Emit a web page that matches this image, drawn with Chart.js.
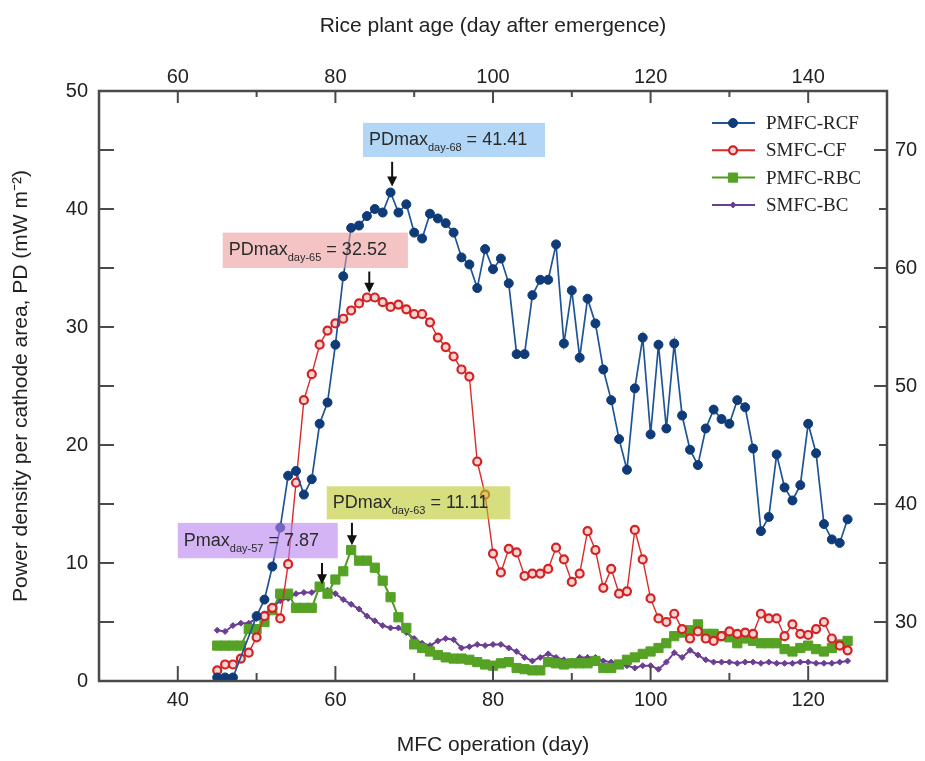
<!DOCTYPE html>
<html>
<head>
<meta charset="utf-8">
<title>Power density vs MFC operation day</title>
<script src="https://cdn.jsdelivr.net/npm/chart.js@4.4.1/dist/chart.umd.min.js"></script>
<style>
    html, body { margin: 0; padding: 0; background: #fff; }
    #wrap { width: 925px; height: 761px; }
</style>
</head>
<body>
<div id="wrap"><canvas id="pdChart" width="925" height="761"></canvas></div>
<script>
/* ---------- data ---------- */
const days = [45, 46, 47, 48, 49, 50, 51, 52, 53, 54, 55, 56, 57, 58, 59, 60, 61, 62, 63, 64,
    65, 66, 67, 68, 69, 70, 71, 72, 73, 74, 75, 76, 77, 78, 79, 80, 81, 82, 83, 84,
    85, 86, 87, 88, 89, 90, 91, 92, 93, 94, 95, 96, 97, 98, 99, 100, 101, 102, 103, 104,
    105, 106, 107, 108, 109, 110, 111, 112, 113, 114, 115, 116, 117, 118, 119, 120, 121, 122, 123, 124, 125];

const pmfcRcf = [0.3, 0.3, 0.3, null, null, 5.5, 6.9, 9.7, 13.0, 17.4, 17.8, 15.8, 17.1, 21.8, 23.6, 28.5, 34.3, 38.4, 38.6, 39.4,
    40.0, 39.7, 41.4, 39.7, 40.4, 38.0, 37.5, 39.6, 39.2, 38.8, 38.0, 35.9, 35.3, 33.3, 36.6, 34.9, 35.8, 33.7, 27.7, 27.7,
    32.7, 34.0, 34.0, 37.0, 28.6, 33.1, 27.4, 32.4, 30.3, 26.4, 23.8, 20.5, 17.9, 24.8, 29.1, 20.9, 28.5, 21.4, 28.6, 22.5,
    19.6, 18.3, 21.4, 23.0, 22.2, 21.8, 23.8, 23.2, 19.7, 12.7, 13.9, 19.2, 16.4, 15.3, 16.6, 21.8, 19.3, 13.3, 12.0, 11.7, 13.7];

const smfcCf = [0.9, 1.4, 1.4, 1.9, 2.4, 3.7, 5.5, 6.2, 5.3, 9.9, 16.8, 23.8, 26.0, 28.5, 29.7, 30.3, 30.7, 31.4, 32.0, 32.5,
    32.5, 32.1, 31.7, 31.9, 31.5, 31.1, 31.1, 30.4, 29.1, 28.3, 27.5, 26.4, 25.8, 18.6, 15.8, 10.8, 9.2, 11.2, 10.9, 8.9,
    9.1, 9.1, 9.5, 11.3, 10.3, 8.4, 9.1, 12.7, 11.1, 7.9, 9.5, 7.4, 7.6, 12.8, 10.3, 7.0, 5.3, 5.0, 5.7, 4.4,
    3.6, 4.2, 3.6, 3.4, 3.8, 4.2, 4.0, 4.1, 4.0, 5.7, 5.3, 5.3, 3.8, 4.8, 4.0, 3.9, 4.4, 5.0, 3.6, 3.0, 2.6];

const pmfcRbc = [3.0, 3.0, 3.0, 3.0, 4.4, 4.4, 5.0, 6.0, 7.4, 7.4, 6.2, 6.2, 6.2, 8.0, 7.4, 8.6, 9.3, 11.1, 10.2, 10.2,
    9.6, 8.5, 7.1, 5.4, 4.5, 3.1, 2.8, 2.5, 2.2, 2.0, 1.9, 1.9, 1.8, 1.6, 1.4, 1.3, 1.5, 1.6, 1.1, 1.0,
    0.9, 0.9, 1.6, 1.5, 1.4, 1.5, 1.5, 1.5, 1.7, 1.1, 1.1, 1.4, 1.8, 2.0, 2.3, 2.5, 2.8, 3.2, 3.8, 4.1,
    4.3, 4.8, 4.0, 4.0, 3.8, 3.7, 3.2, 3.6, 3.4, 3.2, 3.2, 3.2, 2.7, 2.5, 2.8, 3.0, 2.7, 2.5, 2.8, 3.1, 3.4];

const smfcBc = [4.3, 4.2, 4.7, 4.9, 4.9, 5.3, 5.7, 6.2, 6.8, 7.0, 7.4, 7.5, 7.5, 7.8, 7.7, 7.4, 6.9, 6.5, 6.1, 5.5,
    5.1, 4.7, 4.5, 4.5, 4.1, 3.6, 3.2, 3.0, 3.4, 3.6, 3.5, 2.8, 2.9, 3.1, 3.0, 3.1, 3.1, 2.8, 2.5, 2.0,
    1.7, 2.0, 2.3, 2.0, 1.8, 1.7, 2.0, 2.0, 2.0, 1.7, 1.6, 1.5, 1.3, 1.1, 1.3, 1.3, 1.0, 1.6, 2.4, 2.0,
    2.6, 2.2, 1.8, 1.6, 1.6, 1.6, 1.5, 1.6, 1.6, 1.5, 1.6, 1.5, 1.5, 1.5, 1.6, 1.6, 1.5, 1.5, 1.5, 1.6, 1.7];

const seriesNames = ["PMFC-RCF", "SMFC-CF", "PMFC-RBC", "SMFC-BC"];

/* ---------- axes ---------- */
const bottomTicks = [40, 60, 80, 100, 120];
const bottomMinor = [50, 70, 90, 110];
const topTicks = [60, 80, 100, 120, 140];
const topMinor = [70, 90, 110, 130];
const leftTicks = [0, 10, 20, 30, 40, 50];
const leftMinor = [5, 15, 25, 35, 45];
const rightTicks = [30, 40, 50, 60, 70];
const rightMinor = [35, 45, 55, 65];

/* ---------- callouts ---------- */
const notes = [
    { main: "PDmax", sub: "day-68", rest: " = 41.41", fill: "rgba(127,187,238,0.6)",
      x0: 63.5, x1: 86.6, y0: 47.3, y1: 44.4, ax: 67.2, ay0: 44.0, ay1: 41.9 },
    { main: "PDmax", sub: "day-65", rest: " = 32.52", fill: "rgba(237,157,157,0.6)",
      x0: 45.7, x1: 69.2, y0: 38.0, y1: 35.0, ax: 64.3, ay0: 34.7, ay1: 32.9 },
    { main: "PDmax", sub: "day-63", rest: " = 11.11", fill: "rgba(187,200,43,0.6)",
      x0: 58.9, x1: 82.2, y0: 16.5, y1: 13.7, ax: 62.1, ay0: 13.4, ay1: 11.5 },
    { main: "Pmax", sub: "day-57", rest: " = 7.87", fill: "rgba(183,130,238,0.6)",
      x0: 40.0, x1: 60.3, y0: 13.4, y1: 10.4, ax: 58.3, ay0: 10.0, ay1: 8.2 }
];

const SANS = "'Liberation Sans', Arial, sans-serif";
const SERIF = "'Liberation Serif', 'Times New Roman', serif";

function toPoints(vals) {
    return days.map((d, i) => ({ x: d, y: vals[i] }));
}

/* ---------- marker drawing (legend) ---------- */
function drawMarker(ctx, style, x, y, r) {
    ctx.beginPath();
    if (style === "rect") {
        const s = r * Math.SQRT1_2;
        ctx.rect(x - s, y - s, 2 * s, 2 * s);
    } else if (style === "rectRot") {
        ctx.moveTo(x, y - r); ctx.lineTo(x + r, y); ctx.lineTo(x, y + r); ctx.lineTo(x - r, y); ctx.closePath();
    } else {
        ctx.arc(x, y, r, 0, Math.PI * 2);
    }
    ctx.fill();
    ctx.stroke();
}

/* ---------- plugins ---------- */
const calloutPlugin = {
    id: "callouts",
    afterDatasetsDraw(chart) {
        const { ctx, scales: { x, y } } = chart;
        ctx.save();
        notes.forEach(n => {
            const left = x.getPixelForValue(n.x0), right = x.getPixelForValue(n.x1);
            const top = y.getPixelForValue(n.y0), bottom = y.getPixelForValue(n.y1);
            ctx.fillStyle = n.fill;
            ctx.fillRect(left, top, right - left, bottom - top);

            // text with subscript
            const base = top + (bottom - top) / 2 + 5;
            let tx = left + 6;
            ctx.fillStyle = "#2b2b2b";
            ctx.textBaseline = "alphabetic";
            ctx.textAlign = "left";
            ctx.font = "18px " + SANS;
            ctx.fillText(n.main, tx, base);
            tx += ctx.measureText(n.main).width;
            ctx.font = "11px " + SANS;
            ctx.fillText(n.sub, tx, base + 6);
            tx += ctx.measureText(n.sub).width;
            ctx.font = "18px " + SANS;
            ctx.fillText(n.rest, tx, base);

            // arrow
            const ax = x.getPixelForValue(n.ax);
            const a0 = y.getPixelForValue(n.ay0), a1 = y.getPixelForValue(n.ay1);
            ctx.strokeStyle = "#111";
            ctx.fillStyle = "#111";
            ctx.lineWidth = 2;
            ctx.beginPath();
            ctx.moveTo(ax, a0);
            ctx.lineTo(ax, a1 - 8);
            ctx.stroke();
            ctx.beginPath();
            ctx.moveTo(ax - 5, a1 - 10);
            ctx.lineTo(ax + 5, a1 - 10);
            ctx.lineTo(ax, a1);
            ctx.closePath();
            ctx.fill();
        });
        ctx.restore();
    }
};

const framePlugin = {
    id: "frameTicks",
    afterDraw(chart) {
        const { ctx, chartArea: a, scales } = chart;
        ctx.save();
        ctx.strokeStyle = "#4a4a4a";
        ctx.lineWidth = 2;
        const mark = (scale, vals, len, side) => {
            vals.forEach(v => {
                const p = scale.getPixelForValue(v);
                ctx.beginPath();
                if (side === "bottom") { ctx.moveTo(p, a.bottom); ctx.lineTo(p, a.bottom - len); }
                if (side === "top") { ctx.moveTo(p, a.top); ctx.lineTo(p, a.top + len); }
                if (side === "left") { ctx.moveTo(a.left, p); ctx.lineTo(a.left + len, p); }
                if (side === "right") { ctx.moveTo(a.right, p); ctx.lineTo(a.right - len, p); }
                ctx.stroke();
            });
        };
        mark(scales.x, bottomTicks, 15, "bottom");
        mark(scales.x, bottomMinor, 8, "bottom");
        mark(scales.x2, topTicks, 12, "top");
        mark(scales.x2, topMinor, 6, "top");
        mark(scales.y, leftTicks, 15, "left");
        mark(scales.y, leftMinor, 15, "left");
        mark(scales.y2, rightTicks, 13, "right");
        mark(scales.y2, rightMinor, 8, "right");

        ctx.lineWidth = 2.5;
        ctx.strokeRect(a.left, a.top, a.right - a.left, a.bottom - a.top);
        ctx.restore();
    }
};

const legendPlugin = {
    id: "innerLegend",
    afterDraw(chart) {
        const { ctx, chartArea: a } = chart;
        ctx.save();
        chart.data.datasets.forEach((ds, i) => {
            const y = a.top + 32 + i * 27.3;
            const x0 = a.right - 175;
            ctx.strokeStyle = ds.borderColor;
            ctx.lineWidth = 2;
            ctx.beginPath();
            ctx.moveTo(x0, y);
            ctx.lineTo(x0 + 43, y);
            ctx.stroke();
            ctx.fillStyle = ds.pointBackgroundColor;
            ctx.strokeStyle = ds.pointBorderColor;
            ctx.lineWidth = ds.pointBorderWidth;
            drawMarker(ctx, ds.pointStyle, x0 + 21, y, ds.legendRadius);
            ctx.fillStyle = "#222";
            ctx.font = "19px " + SERIF;
            ctx.textBaseline = "middle";
            ctx.fillText(ds.label, x0 + 54, y + 1);
        });
        ctx.restore();
    }
};

/* ---------- scales ---------- */
function makeAxis(position, min, max, ticks, boxSize, pad, title, titlePad) {
    const horizontal = position === "top" || position === "bottom";
    return {
        type: "linear",
        position,
        min,
        max,
        grid: { display: false, drawTicks: false },
        border: { display: false },
        afterBuildTicks: s => { s.ticks = ticks.map(v => ({ value: v })); },
        afterFit: s => { if (horizontal) s.height = boxSize; else s.width = boxSize; },
        ticks: { color: "#222", font: { family: SANS, size: 20 }, padding: pad, maxRotation: 0 },
        title: {
            display: !!title,
            text: title,
            color: "#222",
            font: { family: SANS, size: 21 },
            padding: titlePad
        }
    };
}

/* ---------- chart ---------- */
new Chart(document.getElementById("pdChart"), {
    type: "line",
    data: {
        datasets: [
            {
                label: seriesNames[0], data: toPoints(pmfcRcf),
                borderColor: "#1f5497", borderWidth: 1.7,
                pointStyle: "circle", pointRadius: 4.5, legendRadius: 4.5,
                pointBackgroundColor: "#0f3b78", pointBorderColor: "#0f3b78", pointBorderWidth: 1
            },
            {
                label: seriesNames[1], data: toPoints(smfcCf),
                borderColor: "#d92b2b", borderWidth: 1.4,
                pointStyle: "circle", pointRadius: 4, legendRadius: 4,
                pointBackgroundColor: "#f9d4d4", pointBorderColor: "#d42222", pointBorderWidth: 2.2
            },
            {
                label: seriesNames[2], data: toPoints(pmfcRbc),
                borderColor: "#4f9a1f", borderWidth: 2,
                pointStyle: "rect", pointRadius: 6.5, legendRadius: 6.5,
                pointBackgroundColor: "#55a224", pointBorderColor: "#55a224", pointBorderWidth: 1
            },
            {
                label: seriesNames[3], data: toPoints(smfcBc),
                borderColor: "#6a3f93", borderWidth: 2,
                pointStyle: "rectRot", pointRadius: 3, legendRadius: 3,
                pointBackgroundColor: "#6a3f93", pointBorderColor: "#6a3f93", pointBorderWidth: 1
            }
        ]
    },
    options: {
        responsive: false,
        animation: false,
        spanGaps: true,
        layout: { padding: 0 },
        elements: { line: { tension: 0 } },
        plugins: { legend: { display: false }, tooltip: { enabled: false } },
        scales: {
            x: makeAxis("bottom", 30, 130, bottomTicks, 80, 7, "MFC operation (day)", { top: 0, bottom: 3 }),
            x2: makeAxis("top", 50, 150, topTicks, 91, 2, "Rice plant age (day after emergence)", { top: 14, bottom: 0 }),
            y: makeAxis("left", 0, 50, leftTicks, 99, 11, "Power density per cathode area, PD (mW m\u207B\u00B2)", { top: 9, bottom: 0 }),
            y2: makeAxis("right", 25, 75, rightTicks, 38, 8, "", 0)
        }
    },
    plugins: [calloutPlugin, framePlugin, legendPlugin]
});
</script>
</body>
</html>
